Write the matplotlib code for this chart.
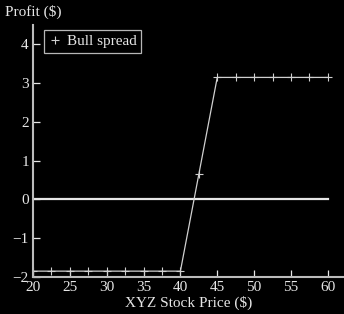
import matplotlib
matplotlib.use("Agg")
import matplotlib.pyplot as plt
import numpy as np

# stock prices and bull spread profit
prices = [20, 22.5, 25, 27.5, 30, 32.5, 35, 37.5, 40, 42.5, 45, 47.5, 50, 52.5, 55, 57.5, 60]
profit = [-1.85, -1.85, -1.85, -1.85, -1.85, -1.85, -1.85, -1.85, -1.85,
          0.65, 3.15, 3.15, 3.15, 3.15, 3.15, 3.15, 3.15]
zero_x = [20, 60]
zero_y = [0, 0]
xticks = [20, 25, 30, 35, 40, 45, 50, 55, 60]
yticks = [-2, -1, 0, 1, 2, 3, 4]

fg = "#e6e6e6"
plt.rcParams['font.family'] = ['Liberation Serif', 'DejaVu Serif']
plt.rcParams['font.size'] = 11

fig = plt.figure(figsize=(3.44, 3.14), dpi=100, facecolor="black")
ax = fig.add_axes([0.096, 0.118, 0.904, 0.802], facecolor="black")

ax.plot(zero_x, zero_y, color=fg, lw=1.6)
ax.plot(prices, profit, color="#d0d0d0", lw=0.9, marker="+", markersize=6,
        markeredgewidth=0.8, label="Bull spread")

ax.set_xlim(20, 62.2)
ax.set_ylim(-2, 4.5)
ax.set_xticks(xticks)
ax.set_yticks(yticks)
ax.set_yticklabels([str(v).replace("-", "\u2212") for v in yticks])
ax.tick_params(direction="in", colors=fg, labelcolor=fg, length=5, width=0.9, pad=3)
for s in ["top", "right"]:
    ax.spines[s].set_visible(False)
for s in ["left", "bottom"]:
    ax.spines[s].set_color("#bbbbbb")
    ax.spines[s].set_linewidth(1.5)

ax.set_xlabel("XYZ Stock Price ($)", color=fg, labelpad=1)
fig.text(0.015, 0.962, "Profit ($)", color=fg, ha="left", va="center", fontsize=11)

leg = ax.legend(loc="upper left", bbox_to_anchor=(0.02, 1.0), frameon=True, fancybox=False,
                handlelength=0.8, handletextpad=0.4, borderpad=0.3, borderaxespad=0.3)
leg.get_frame().set_facecolor("black")
leg.get_frame().set_edgecolor(fg)
leg.get_frame().set_linewidth(0.9)
for t in leg.get_texts():
    t.set_color(fg)
leg.get_lines()[0].set_linestyle("none")

fig.savefig("out.png", dpi=100, facecolor="black")
